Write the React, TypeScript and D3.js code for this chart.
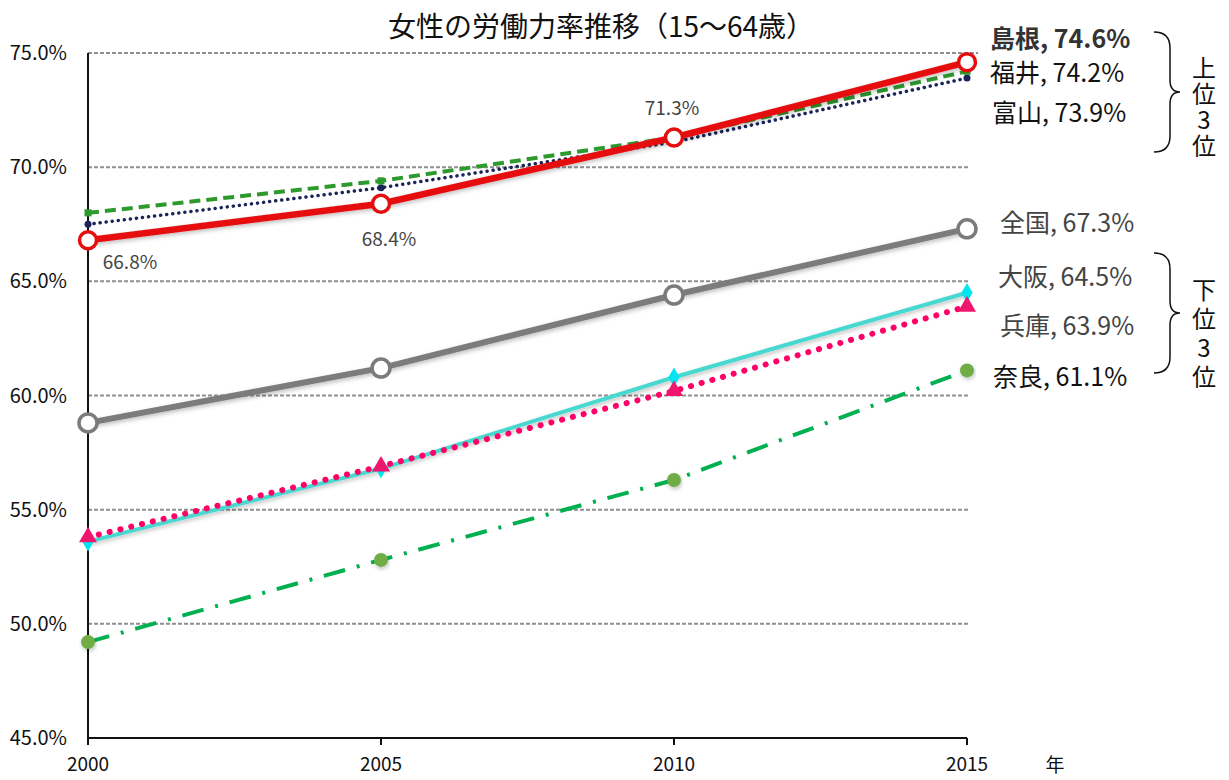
import * as d3 from "d3";

// years on the x axis
const years = [2000, 2005, 2010, 2015];
// labour force participation rate of women aged 15-64 (%)
const shimane = [66.8, 68.4, 71.3, 74.6];
const fukui = [68.0, 69.4, 71.3, 74.2];
const toyama = [67.5, 69.1, 71.1, 73.9];
const national = [58.8, 61.2, 64.4, 67.3];
const osaka = [53.6, 56.8, 60.8, 64.5];
const hyogo = [53.8, 56.9, 60.2, 63.9];
const nara = [49.2, 52.8, 56.3, 61.1];
const yTicks = [45, 50, 55, 60, 65, 70, 75];

const W = 1229;
const H = 780;
const FONT = "'Noto Sans CJK JP', 'Noto Sans', sans-serif";

export default function App() {
  // scales
  const x = d3.scaleLinear().domain([2000, 2015]).range([88, 967]);
  const y = d3.scaleLinear().domain([45, 75]).range([738, 53]);

  const line = (vals: number[]) =>
    d3.line<number>()
      .x((_, i) => x(years[i]))
      .y((d) => y(d))(vals) || "";

  const sym = (type: d3.SymbolType, size: number) => d3.symbol().type(type).size(size)() || "";

  const pts = (vals: number[]) => vals.map((v, i) => [x(years[i]), y(v)] as [number, number]);

  const vertical = { writingMode: "vertical-rl", textOrientation: "upright" } as React.CSSProperties;

  return (
    <svg width={W} height={H} style={{ position: "absolute", left: 0, top: 0, background: "#fff" }} fontFamily={FONT}>
      <defs>
        <filter id="shadow" x="-10%" y="-50%" width="120%" height="200%">
          <feDropShadow dx="1" dy="2" stdDeviation="2" floodColor="#000" floodOpacity="0.25" />
        </filter>
      </defs>

      {/* title */}
      <text x={601} y={37} textAnchor="middle" fontSize={28} fill="#111">
        女性の労働力率推移（15〜64歳）
      </text>

      {/* gridlines */}
      {yTicks.filter((t) => t > 45).map((t) => (
        <line key={t} x1={x(2000)} x2={t === 75 ? 978 : 970} y1={y(t)} y2={y(t)}
          stroke="#8f8f8f" strokeWidth={2} strokeDasharray="4 2" />
      ))}

      {/* y tick labels */}
      {yTicks.map((t) => (
        <text key={t} x={67} y={y(t) + 7} textAnchor="end" fontSize={20} fill="#111">
          {t.toFixed(1)}%
        </text>
      ))}

      {/* axes */}
      <line x1={x(2000)} x2={x(2000)} y1={y(75)} y2={y(45)} stroke="#111" strokeWidth={2} />
      <line x1={x(2000)} x2={x(2015)} y1={y(45)} y2={y(45)} stroke="#111" strokeWidth={2} />
      {years.map((yr) => (
        <g key={yr}>
          <line x1={x(yr)} x2={x(yr)} y1={y(45)} y2={y(45) + 7} stroke="#111" strokeWidth={2} />
          <text x={x(yr)} y={771} textAnchor="middle" fontSize={19} fill="#111">{yr}</text>
        </g>
      ))}
      <text x={1055} y={772} textAnchor="middle" fontSize={19} fill="#111">年</text>

      {/* 奈良 */}
      <path d={line(nara)} fill="none" stroke="#00b050" strokeWidth={4} strokeDasharray="22 12 3 12" />
      {pts(nara).map(([px, py], i) => (
        <circle key={i} cx={px} cy={py} r={7} fill="#70ad47" filter="url(#shadow)" />
      ))}

      {/* 大阪 */}
      <path d={line(osaka)} fill="none" stroke="#48d8d0" strokeWidth={4} filter="url(#shadow)" />
      {pts(osaka).map(([px, py], i) => (
        <path key={i} d={sym(d3.symbolDiamond, 110)} transform={`translate(${px},${py})`} fill="#00e5f0" />
      ))}

      {/* 兵庫 */}
      <path d={line(hyogo)} fill="none" stroke="#ff0066" strokeWidth={6} strokeLinecap="round" strokeDasharray="0.1 11" />
      {pts(hyogo).map(([px, py], i) => (
        <path key={i} d={sym(d3.symbolTriangle, 140)} transform={`translate(${px},${py})`} fill="#f0166e" />
      ))}

      {/* 全国 */}
      <path d={line(national)} fill="none" stroke="#7b7b7b" strokeWidth={6} filter="url(#shadow)" />
      {pts(national).map(([px, py], i) => (
        <circle key={i} cx={px} cy={py} r={9} fill="#fff" stroke="#7b7b7b" strokeWidth={3.5} />
      ))}

      {/* 富山 */}
      <path d={line(toyama)} fill="none" stroke="#1b2459" strokeWidth={3.5} strokeLinecap="round" strokeDasharray="0.1 6" />
      {pts(toyama).map(([px, py], i) => (
        <circle key={i} cx={px} cy={py} r={3.5} fill="#1b2459" />
      ))}

      {/* 福井 */}
      <path d={line(fukui)} fill="none" stroke="#2e9a2e" strokeWidth={4} strokeDasharray="11 6" />
      {pts(fukui).map(([px, py], i) => (
        <path key={i} d={sym(d3.symbolSquare, 50)} transform={`translate(${px},${py})`} fill="#2e9a2e" />
      ))}

      {/* 島根 */}
      <path d={line(shimane)} fill="none" stroke="#e50e0e" strokeWidth={6.5} filter="url(#shadow)" />
      {pts(shimane).map(([px, py], i) => (
        <circle key={i} cx={px} cy={py} r={8.5} fill="#fff" stroke="#e50e0e" strokeWidth={3.5} />
      ))}

      {/* 島根 value labels */}
      <text x={x(2000) + 42} y={y(shimane[0]) + 29} textAnchor="middle" fontSize={19} fill="#444">{shimane[0].toFixed(1)}%</text>
      <text x={x(2005) + 8} y={y(shimane[1]) + 42} textAnchor="middle" fontSize={19} fill="#444">{shimane[1].toFixed(1)}%</text>
      <text x={x(2010) - 2} y={y(shimane[2]) - 22} textAnchor="middle" fontSize={19} fill="#444">{shimane[2].toFixed(1)}%</text>

      {/* right-hand labels */}
      <g fontSize={25}>
        <text x={990} y={48} fill="#333" fontWeight="bold">島根, {shimane[3].toFixed(1)}%</text>
        <text x={990} y={82} fill="#111">福井, {fukui[3].toFixed(1)}%</text>
        <text x={992} y={122} fill="#111">富山, {toyama[3].toFixed(1)}%</text>
        <text x={1000} y={232} fill="#444">全国, {national[3].toFixed(1)}%</text>
        <text x={998} y={286} fill="#444">大阪, {osaka[3].toFixed(1)}%</text>
        <text x={1000} y={335} fill="#444">兵庫, {hyogo[3].toFixed(1)}%</text>
        <text x={993} y={386} fill="#111">奈良, {nara[3].toFixed(1)}%</text>
      </g>

      {/* brackets */}
      <g fill="none" stroke="#111" strokeWidth={1.5}>
        <path d="M1154,32 Q1170,32 1170,48 L1170,80 Q1170,92 1180,92 Q1170,92 1170,104 L1170,136 Q1170,152 1154,152" />
        <path d="M1154,253 Q1170,253 1170,269 L1170,301 Q1170,313 1180,313 Q1170,313 1170,325 L1170,357 Q1170,373 1154,373" />
      </g>
      <g fontSize={24} fill="#111">
        <text x={1204} y={56} style={vertical} letterSpacing={2}>上位3位</text>
        <text x={1204} y={278} style={vertical} letterSpacing={5}>下位3位</text>
      </g>
    </svg>
  );
}
